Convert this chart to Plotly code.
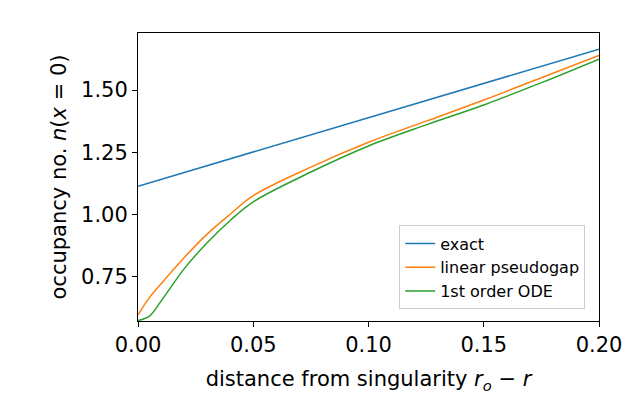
import plotly.graph_objects as go

# values
x_exact = [0.0, 0.2]
y_exact = [1.113, 1.665]

x_curve = [0.0, 0.005, 0.01, 0.02, 0.03, 0.04, 0.05, 0.075, 0.1, 0.125, 0.15, 0.175, 0.2]
y_linear = [0.595, 0.665, 0.72, 0.825, 0.92, 1.0, 1.075, 1.19, 1.29, 1.375, 1.46, 1.55, 1.64]
y_ode = [0.572, 0.59, 0.65, 0.78, 0.885, 0.975, 1.05, 1.17, 1.275, 1.36, 1.44, 1.53, 1.625]

fig = go.Figure()
fig.add_trace(go.Scatter(x=x_exact, y=y_exact, mode='lines', name='exact',
                         line=dict(color='#1f77b4', width=1.5)))
fig.add_trace(go.Scatter(x=x_curve, y=y_linear, mode='lines', name='linear pseudogap',
                         line=dict(color='#ff7f0e', width=1.5, shape='spline', smoothing=1)))
fig.add_trace(go.Scatter(x=x_curve, y=y_ode, mode='lines', name='1st order ODE',
                         line=dict(color='#2ca02c', width=1.5, shape='spline', smoothing=1)))

axis_style = dict(showgrid=False, zeroline=False, showline=True, linecolor='black', mirror=True,
                  ticks='outside', ticklen=5, tickcolor='black',
                  tickfont=dict(size=21, color='black'))
fig.update_xaxes(range=[0, 0.2], tickvals=[0, 0.05, 0.1, 0.15, 0.2], tickformat='.2f',
                 title=dict(text='distance from singularity <i>r<sub>o</sub></i> − <i>r</i>',
                            font=dict(size=21, color='black')), **axis_style)
fig.update_yaxes(range=[0.57, 1.73], tickvals=[0.75, 1.0, 1.25, 1.5], tickformat='.2f',
                 title=dict(text='occupancy no. <i>n</i>(<i>x</i> = 0)', standoff=8,
                            font=dict(size=21, color='black')), **axis_style)
fig.update_layout(
    width=640, height=406,
    margin=dict(l=130, r=49, t=25, b=93),
    plot_bgcolor='white', paper_bgcolor='white',
    font=dict(family='DejaVu Sans', color='black'),
    legend=dict(x=0.97, y=0.04, xanchor='right', yanchor='bottom',
                bordercolor='#cccccc', borderwidth=1, bgcolor='rgba(255,255,255,0.8)',
                font=dict(size=16)),
)
fig.write_html("out.html")
